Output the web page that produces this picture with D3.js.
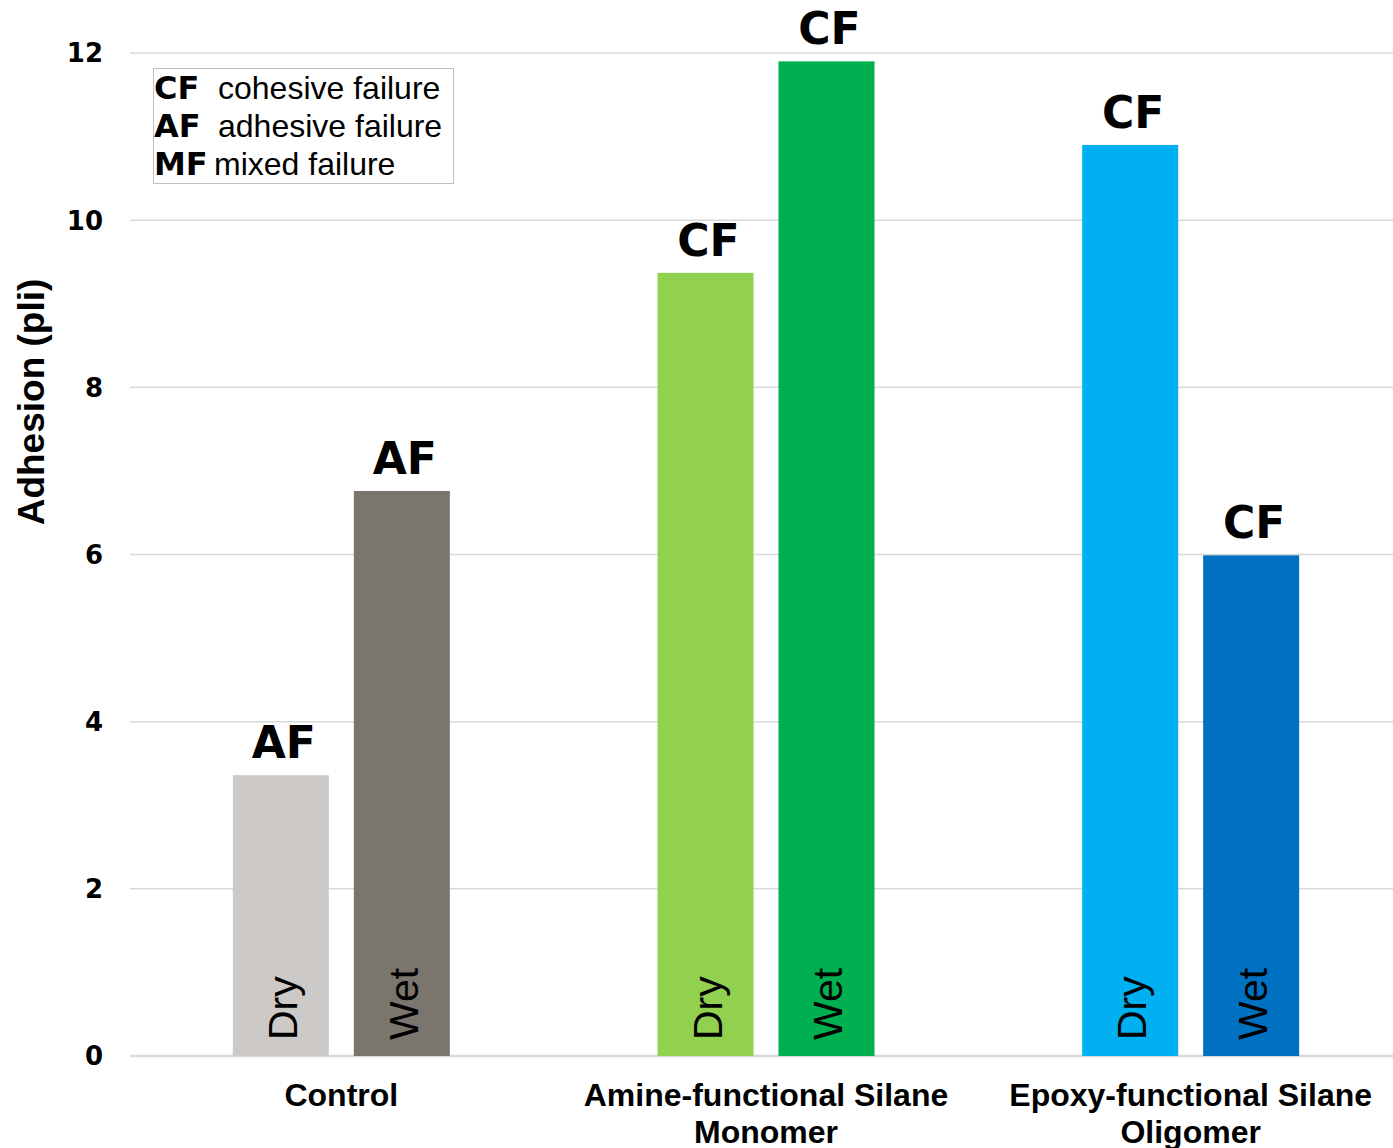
<!DOCTYPE html>
<html>
<head>
<meta charset="utf-8">
<script src="https://cdn.jsdelivr.net/npm/d3@7"></script>
<style>
  body { margin: 0; background: #fff; }
  svg { display: block; }
</style>
</head>
<body>
<div id="chart"></div>
<script>
// data
var categories = [["Control"], ["Amine-functional Silane", "Monomer"], ["Epoxy-functional Silane", "Oligomer"]];
var conditions = ["Dry", "Wet"];
var dryValues = [3.36, 9.37, 10.9];
var wetValues = [6.76, 11.9, 5.99];
var failureDry = ["AF", "CF", "CF"];
var failureWet = ["AF", "CF", "CF"];
var barColorsDry = ["#CDC9C6", "#92D050", "#00B0F0"];
var barColorsWet = ["#7A756D", "#00B050", "#0070C0"];
var yTicks = [0, 2, 4, 6, 8, 10, 12];
var legendCodes = ["CF", "AF", "MF"];
var legendNames = ["cohesive failure", "adhesive failure", "mixed failure"];

var width = 1393, height = 1148;
var margin = {left: 130, right: 0, top: 53, bottom: 92};

var svg = d3.select("#chart").append("svg")
    .attr("width", width)
    .attr("height", height);

// the category bands run a bit past the right edge, as in the original
var x0 = d3.scaleBand()
    .domain(d3.range(categories.length))
    .range([129, 1403]);

var x1 = d3.scaleBand()
    .domain(conditions)
    .range([-108.5, 108.5])
    .paddingInner(0.2066);

var y = d3.scaleLinear()
    .domain([0, 12])
    .range([height - margin.bottom, margin.top]);

// gridlines
svg.append("g")
    .selectAll("line")
    .data(yTicks)
    .enter().append("line")
    .attr("x1", margin.left)
    .attr("x2", width - margin.right)
    .attr("y1", function(d) { return y(d); })
    .attr("y2", function(d) { return y(d); })
    .attr("stroke", "#d9d9d9")
    .attr("stroke-width", function(d) { return d === 0 ? 2.5 : 1.5; });

// y tick labels
svg.append("g")
    .selectAll("text")
    .data(yTicks)
    .enter().append("text")
    .attr("x", 103)
    .attr("y", function(d) { return y(d); })
    .attr("dy", "0.36em")
    .attr("text-anchor", "end")
    .style("font-family", "DejaVu Sans")
    .style("font-weight", "bold")
    .style("font-size", "26px")
    .text(function(d) { return d; });

// y axis title
svg.append("text")
    .attr("transform", "translate(44,402) rotate(-90)")
    .attr("text-anchor", "middle")
    .style("font-family", "Liberation Sans")
    .style("font-weight", "bold")
    .style("font-size", "37px")
    .text("Adhesion (pli)");

var rows = [];
categories.forEach(function(c, i) {
  rows.push({cat: i, cond: "Dry", value: dryValues[i], color: barColorsDry[i], fail: failureDry[i]});
  rows.push({cat: i, cond: "Wet", value: wetValues[i], color: barColorsWet[i], fail: failureWet[i]});
});

function barCenter(d) {
  return x0(d.cat) + x0.bandwidth() / 2 + x1(d.cond) + x1.bandwidth() / 2;
}

var bars = svg.append("g");

bars.selectAll("rect")
    .data(rows)
    .enter().append("rect")
    .attr("x", function(d) { return barCenter(d) - x1.bandwidth() / 2; })
    .attr("width", x1.bandwidth())
    .attr("y", function(d) { return y(d.value); })
    .attr("height", function(d) { return y(0) - y(d.value); })
    .attr("fill", function(d) { return d.color; });

// Dry / Wet inside bars
bars.selectAll("text.cond")
    .data(rows)
    .enter().append("text")
    .attr("class", "cond")
    .attr("transform", function(d) { return "translate(" + (barCenter(d) + 16) + "," + (y(0) - 16) + ") rotate(-90)"; })
    .attr("text-anchor", "start")
    .style("font-family", "Liberation Sans")
    .style("font-size", "41px")
    .text(function(d) { return d.cond; });

// failure labels above bars
bars.selectAll("text.fail")
    .data(rows)
    .enter().append("text")
    .attr("class", "fail")
    .attr("x", function(d) { return barCenter(d) + 3; })
    .attr("y", function(d) { return y(d.value) - 17; })
    .attr("text-anchor", "middle")
    .style("font-family", "DejaVu Sans")
    .style("font-weight", "bold")
    .style("font-size", "44px")
    .text(function(d) { return d.fail; });

// category labels
var catLabels = svg.append("g")
    .selectAll("text")
    .data(categories)
    .enter().append("text")
    .attr("x", function(d, i) { return x0(i) + x0.bandwidth() / 2; })
    .attr("y", 1106)
    .attr("text-anchor", "middle")
    .style("font-family", "Liberation Sans")
    .style("font-weight", "bold")
    .style("font-size", "32px");

catLabels.selectAll("tspan")
    .data(function(d) { return d; })
    .enter().append("tspan")
    .attr("x", function() { return d3.select(this.parentNode).attr("x"); })
    .attr("dy", function(d, i) { return i === 0 ? 0 : 37; })
    .text(function(d) { return d; });

// legend box
var legend = svg.append("g");
legend.append("rect")
    .attr("x", 153.5)
    .attr("y", 68.5)
    .attr("width", 300)
    .attr("height", 115)
    .attr("fill", "#fff")
    .attr("stroke", "#bfbfbf")
    .attr("stroke-width", 1);

legendCodes.forEach(function(code, i) {
  var t = legend.append("text")
      .attr("x", 154)
      .attr("y", 99 + i * 38)
      .style("font-size", "32px");
  t.append("tspan")
      .style("font-family", "DejaVu Sans")
      .style("font-weight", "bold")
      .text(code);
  t.append("tspan")
      .attr("x", i === 2 ? 214 : 218)
      .style("font-family", "Liberation Sans")
      .text(legendNames[i]);
});
</script>
</body>
</html>
